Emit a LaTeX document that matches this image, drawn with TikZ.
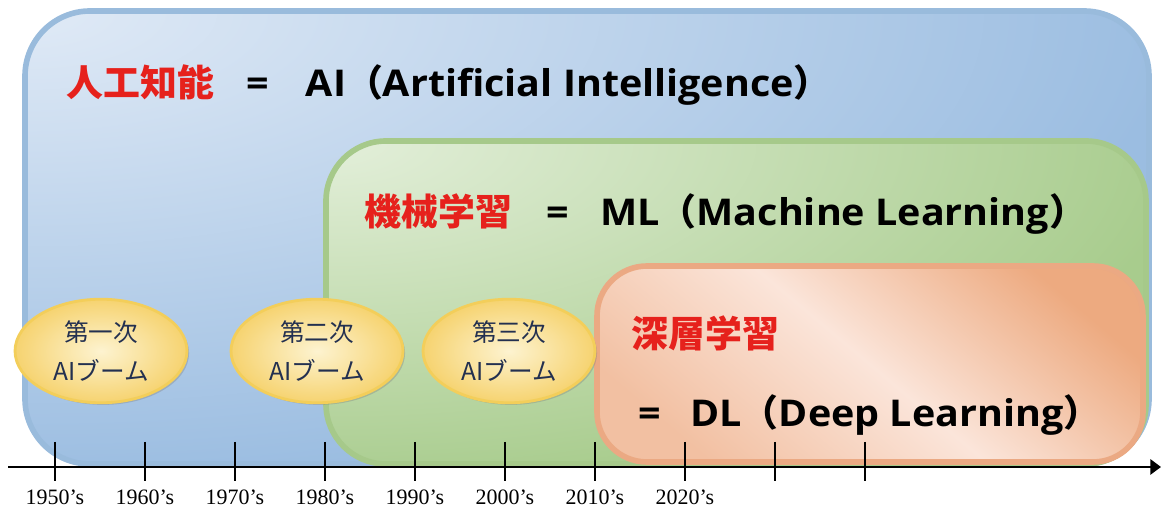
\documentclass[tikz,border=0pt]{standalone}
\usepackage{fontspec}
\usetikzlibrary{shapes.geometric,shadows,arrows.meta}

\newfontfamily\jpfont{Noto Sans CJK JP}
\newfontfamily\enfont[FakeStretch=1.07]{Open Sans}
\newfontfamily\yearfont{Liberation Serif}

\definecolor{aiLight}{RGB}{224,234,246}
\definecolor{aiDark}{RGB}{155,189,225}
\definecolor{aiLine}{RGB}{153,187,220}
\definecolor{mlLight}{RGB}{227,239,218}
\definecolor{mlDark}{RGB}{168,204,141}
\definecolor{mlLine}{RGB}{166,201,138}
\definecolor{dlLight}{RGB}{251,229,218}
\definecolor{dlMid}{RGB}{242,192,162}
\definecolor{dlDark}{RGB}{237,170,128}
\definecolor{dlLine}{RGB}{235,169,131}
\definecolor{boomIn}{RGB}{253,243,208}
\definecolor{boomOut}{RGB}{246,211,112}
\definecolor{boomLine}{RGB}{243,206,90}
\definecolor{boomText}{RGB}{35,48,80}
\definecolor{titleRed}{RGB}{230,33,28}

\tikzset{
  field/.style={line width=3.2pt, drop shadow={shadow xshift=1pt, shadow yshift=-1pt, opacity=.4}},
  boom/.style={ellipse, draw=boomLine, line width=1.6pt, inner color=boomIn, outer color=boomOut,
    minimum width=3.44cm, minimum height=1.96cm, align=center, text=boomText,
    font=\jpfont\fontsize{14pt}{22.7pt}\selectfont,
    drop shadow={shadow xshift=1.2pt, shadow yshift=-1.2pt, opacity=.35}},
  jaTitle/.style={anchor=base west, inner sep=0pt, text=titleRed, font=\jpfont\bfseries\fontsize{21pt}{25pt}\selectfont},
  enTitle/.style={anchor=base west, inner sep=0pt, font=\enfont\bfseries\fontsize{21pt}{25pt}\selectfont},
  year/.style={font=\yearfont\fontsize{12.5pt}{15pt}\selectfont},
  tick/.style={line width=1.1pt},
  axis/.style={line width=1.7pt, -{Triangle[length=6pt,width=8.5pt]}}
}
\newcommand{\fw}[1]{{\jpfont\bfseries #1}}

\begin{document}
\begin{tikzpicture}[x=0.02cm, y=-0.02cm]
\useasboundingbox (0,0) rectangle (1161,509);

% AI: light from the top left corner
\fill[field, aiDark, rounded corners=1.3cm] (25,11) rectangle (1149,464);
\begin{scope}
  \clip[rounded corners=1.3cm] (25,11) rectangle (1149,464);
  \shade[inner color=aiLight, outer color=aiDark] (25,11) ellipse (1150 and 470);
\end{scope}
\draw[line width=3.2pt, aiLine, rounded corners=1.3cm] (25,11) rectangle (1149,464);

% ML: same
\fill[field, mlDark, rounded corners=1.2cm] (326,141) rectangle (1146,464);
\begin{scope}
  \clip[rounded corners=1.2cm] (326,141) rectangle (1146,464);
  \shade[inner color=mlLight, outer color=mlDark] (326,141) ellipse (860 and 350);
\end{scope}
\draw[line width=3.2pt, mlLine, rounded corners=1.2cm] (326,141) rectangle (1146,464);

% DL
\draw[field, draw=dlLine, top color=dlDark, bottom color=dlMid, middle color=dlLight, shading angle=-40, rounded corners=1cm]
  (597,266) rectangle (1143,462);

\node[jaTitle] (aiJa) at (66,97) {人工知能};
\node[enTitle] (aiEn) at (246,97) {=\hspace{1em}AI\fw{（}Artificial Intelligence\fw{）}};
\node[jaTitle] (mlJa) at (364,226) {機械学習};
\node[enTitle] (mlEn) at (546,226) {=\hspace{0.85em}ML\fw{（}Machine Learning\fw{）}};
\node[jaTitle] (dlJa) at (631,348) {深層学習};
\node[enTitle] (dlEn) at (638,427) {=\hspace{0.8em}DL\fw{（}Deep Learning\fw{）}};

% booms
\node[boom] (boom1) at (101,351) {第一次\\AIブーム};
\node[boom] (boom2) at (317,351) {第二次\\AIブーム};
\node[boom] (boom3) at (509,351) {第三次\\AIブーム};

% time axis
\foreach \i in {0,...,9}
  \draw[tick] (55+90*\i,442) -- (55+90*\i,481);
\foreach \i in {0,...,7} {
  \pgfmathtruncatemacro\yr{1950+10*\i}
  \node[year] (y\yr) at (55+90*\i,497) {\yr’s};
}
\coordinate (axisL) at (8,467);
\coordinate (axisR) at (1161,467);
\draw[axis] (axisL) -- (axisR);
\end{tikzpicture}
\end{document}
